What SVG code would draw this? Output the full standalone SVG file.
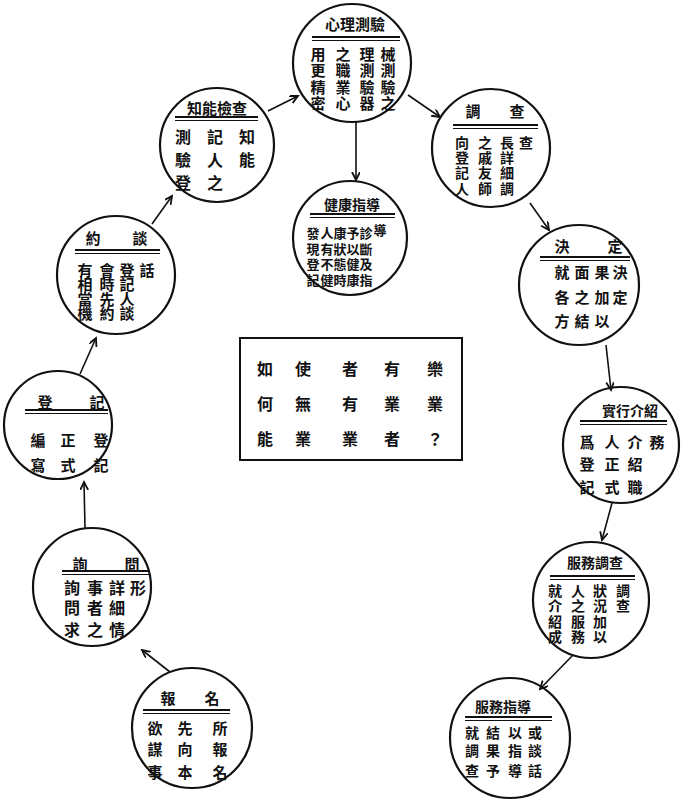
<svg xmlns="http://www.w3.org/2000/svg" width="692" height="806" viewBox="0 0 692 806">
<defs>
<style>
.c{fill:none;stroke:#111;stroke-width:2.2}
.t{font-family:"Noto Sans CJK TC","Noto Sans CJK SC",sans-serif;font-weight:bold;fill:#111;text-anchor:middle;dominant-baseline:central}
.v{writing-mode:vertical-rl;text-orientation:upright}
.h{font-size:15px}
.b{font-size:15px}
.l1{stroke:#111;stroke-width:2}
.l2{stroke:#111;stroke-width:1.2}
.a{fill:none;stroke:#111;stroke-width:1.6}
</style>
<marker id="ar" markerWidth="10" markerHeight="10" refX="8" refY="4" orient="auto" markerUnits="userSpaceOnUse">
<path d="M0,0 L8,4 L0,8" fill="none" stroke="#111" stroke-width="1.8"/>
</marker>
</defs>
<rect width="692" height="806" fill="#fff"/>

<g id="connectors">
<path class="a" d="M170,672 L142,650" marker-end="url(#ar)"/>
<path class="a" d="M85,528 L84,482" marker-end="url(#ar)"/>
<path class="a" d="M80,374 L96,338" marker-end="url(#ar)"/>
<path class="a" d="M152,224 L172,196" marker-end="url(#ar)"/>
<path class="a" d="M268,111 L298,96" marker-end="url(#ar)"/>
<path class="a" d="M408,95 L440,117" marker-end="url(#ar)"/>
<path class="a" d="M356,122 L356,180" marker-end="url(#ar)"/>
<path class="a" d="M530,203 L549,230" marker-end="url(#ar)"/>
<path class="a" d="M606,345 L611,390" marker-end="url(#ar)"/>
<path class="a" d="M612,503 L602,540" marker-end="url(#ar)"/>
<path class="a" d="M573,655 L540,689" marker-end="url(#ar)"/>
</g>

<g id="n-xinli">
<circle class="c" cx="352" cy="63" r="59"/>
<text class="t h" x="355" y="23">心理測驗</text>
<line class="l1" x1="312" y1="37" x2="400" y2="37"/>
<line class="l2" x1="312" y1="40.5" x2="400" y2="40.5"/>
<text class="t b v" x="318" y="54 70 87 103">用更精密</text>
<text class="t b v" x="343" y="54 70 87 103">之職業心</text>
<text class="t b v" x="367" y="54 70 87 103">理測驗器</text>
<text class="t b v" x="388" y="54 70 87 103">械測驗之</text>
</g>

<g id="n-zhineng">
<circle class="c" cx="217" cy="145" r="57"/>
<text class="t h" x="217" y="107">知能檢查</text>
<line class="l1" x1="175" y1="117" x2="258" y2="117"/>
<line class="l2" x1="175" y1="120.5" x2="258" y2="120.5"/>
<text class="t v" font-size="16" x="183" y="137 160 183">測驗登</text>
<text class="t v" font-size="16" x="215" y="137 160 183">記人之</text>
<text class="t v" font-size="16" x="247" y="137 160">知能</text>
</g>

<g id="n-diaocha">
<circle class="c" cx="491" cy="148" r="59"/>
<text class="t b" x="473 517" y="110">調查</text>
<line class="l1" x1="453" y1="125" x2="538" y2="125"/>
<line class="l2" x1="453" y1="128.5" x2="538" y2="128.5"/>
<text class="t v" font-size="14" x="462" y="143 158 173 189">向登記人</text>
<text class="t v" font-size="14" x="485" y="143 158 173 189">之戚友師</text>
<text class="t v" font-size="14" x="507" y="143 158 173 189">長詳細調</text>
<text class="t v" font-size="14" x="526" y="143">查</text>
</g>

<g id="n-jiankang">
<circle class="c" cx="350" cy="238" r="57"/>
<text class="t" font-size="14" x="352" y="204">健康指導</text>
<line class="l1" x1="310" y1="214" x2="395" y2="214"/>
<line class="l2" x1="310" y1="217.5" x2="395" y2="217.5"/>
<text class="t v" font-size="13" x="313" y="233 249 264 280">發現登記</text>
<text class="t v" font-size="13" x="327" y="233 249 264 280">人有不健</text>
<text class="t v" font-size="13" x="340" y="233 249 264 280">康狀態時</text>
<text class="t v" font-size="13" x="353" y="233 249 264 280">予以健康</text>
<text class="t v" font-size="13" x="366" y="233 249 264 280">診斷及指</text>
<text class="t v" font-size="13" x="380" y="230">導</text>
</g>

<g id="n-yuetan">
<circle class="c" cx="116" cy="275" r="59"/>
<text class="t b" x="93 140" y="237">約談</text>
<line class="l1" x1="75" y1="250" x2="160" y2="250"/>
<line class="l2" x1="75" y1="253.5" x2="160" y2="253.5"/>
<text class="t b v" x="85" y="270 284 299 313">有相當機</text>
<text class="t b v" x="107" y="270 284 299 313">會時先約</text>
<text class="t b v" x="127" y="270 284 299 313">登記人談</text>
<text class="t b v" x="147" y="270">話</text>
</g>

<g id="n-jueding">
<circle class="c" cx="579" cy="285" r="60"/>
<text class="t b" x="562 615" y="245">決定</text>
<line class="l1" x1="540" y1="257" x2="630" y2="257"/>
<line class="l2" x1="540" y1="260.5" x2="630" y2="260.5"/>
<text class="t b v" x="562" y="272 297 321">就各方</text>
<text class="t b v" x="582" y="272 297 321">面之結</text>
<text class="t b v" x="602" y="272 297 321">果加以</text>
<text class="t b v" x="620" y="272 297">決定</text>
</g>

<g id="center-box">
<rect x="240" y="338" width="222" height="122" fill="none" stroke="#111" stroke-width="2"/>
<text class="t" font-size="16" x="265 303 350 392 435" y="368">如使者有樂</text>
<text class="t" font-size="16" x="265 303 350 392 435" y="403">何無有業業</text>
<text class="t" font-size="16" x="265 303 350 392 435" y="438">能業業者？</text>
</g>

<g id="n-dengji">
<circle class="c" cx="58" cy="425" r="54"/>
<text class="t b" x="45 97" y="401">登記</text>
<line class="l1" x1="25" y1="410" x2="108" y2="410"/>
<line class="l2" x1="25" y1="413.5" x2="108" y2="413.5"/>
<text class="t b" x="38 68 101" y="439">編正登</text>
<text class="t b" x="38 68 101" y="464">寫式記</text>
</g>

<g id="n-shixing">
<circle class="c" cx="621" cy="445" r="58"/>
<text class="t" font-size="14" x="630" y="410">實行介紹</text>
<line class="l1" x1="580" y1="421" x2="667" y2="421"/>
<line class="l2" x1="580" y1="424.5" x2="667" y2="424.5"/>
<text class="t b v" x="587" y="442 464 487">爲登記</text>
<text class="t b v" x="612" y="442 464 487">人正式</text>
<text class="t b v" x="635" y="442 464 487">介紹職</text>
<text class="t b v" x="657" y="442">務</text>
</g>

<g id="n-xunwen">
<circle class="c" cx="92" cy="587" r="59"/>
<text class="t b" x="80 132" y="563">詢問</text>
<line class="l1" x1="62" y1="571" x2="150" y2="571"/>
<line class="l2" x1="62" y1="574.5" x2="150" y2="574.5"/>
<text class="t v" font-size="16" x="72" y="588 608 630">詢問求</text>
<text class="t v" font-size="16" x="95" y="588 608 630">事者之</text>
<text class="t v" font-size="16" x="117" y="588 608 630">詳細情</text>
<text class="t v" font-size="16" x="138" y="588">形</text>
</g>

<g id="n-fuwudiaocha">
<circle class="c" cx="591" cy="600" r="58"/>
<text class="t" font-size="14" x="595" y="562">服務調查</text>
<line class="l1" x1="550" y1="576" x2="635" y2="576"/>
<line class="l2" x1="550" y1="579.5" x2="635" y2="579.5"/>
<text class="t v" font-size="14" x="555" y="591 606 622 637">就介紹成</text>
<text class="t v" font-size="14" x="578" y="591 606 622 637">人之服務</text>
<text class="t v" font-size="14" x="600" y="591 606 622 637">狀況加以</text>
<text class="t v" font-size="14" x="623" y="591 606">調查</text>
</g>

<g id="n-baoming">
<circle class="c" cx="192" cy="728" r="60"/>
<text class="t b" x="168 212" y="697">報名</text>
<line class="l1" x1="143" y1="710" x2="230" y2="710"/>
<line class="l2" x1="143" y1="713.5" x2="230" y2="713.5"/>
<text class="t b v" x="155" y="728 749 772">欲謀事</text>
<text class="t b v" x="185" y="728 749 772">先向本</text>
<text class="t b v" x="220" y="728 749 772">所報名</text>
</g>

<g id="n-fuwuzhidao">
<circle class="c" cx="510" cy="738" r="60"/>
<text class="t" font-size="14" x="503" y="706">服務指導</text>
<line class="l1" x1="465" y1="717" x2="552" y2="717"/>
<line class="l2" x1="465" y1="720.5" x2="552" y2="720.5"/>
<text class="t v" font-size="14" x="472" y="733 751 771">就調查</text>
<text class="t v" font-size="14" x="493" y="733 751 771">結果予</text>
<text class="t v" font-size="14" x="515" y="733 751 771">以指導</text>
<text class="t v" font-size="14" x="535" y="733 751 771">或談話</text>
</g>
</svg>
